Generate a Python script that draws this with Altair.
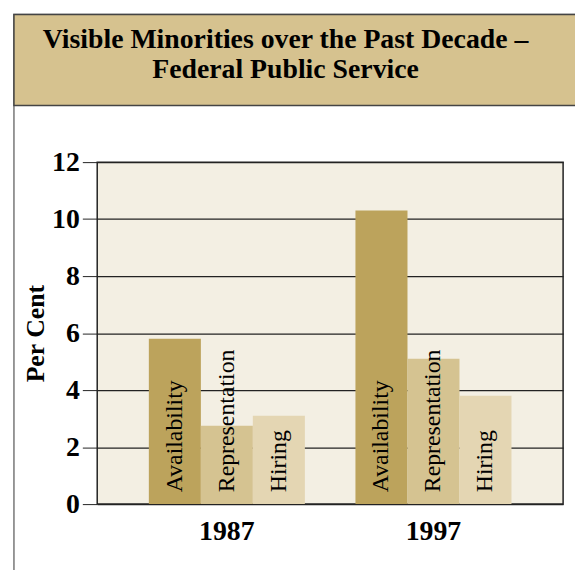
import altair as alt
import pandas as pd

years = ["1987", "1997"]
categories = ["Availability", "Representation", "Hiring"]
values_1987 = [5.8, 2.75, 3.1]
values_1997 = [10.3, 5.1, 3.8]
colors = ["#BCA35C", "#D5C391", "#E4D6B3"]
title_lines = ["Visible Minorities over the Past Decade –", "Federal Public Service"]
y_ticks = [0, 2, 4, 6, 8, 10, 12]

rows = []
for yr, vals in zip(years, [values_1987, values_1997]):
    for c, v in zip(categories, vals):
        rows.append({"year": yr, "category": c, "value": v})
df = pd.DataFrame(rows)

SERIF = "Liberation Serif"

x_enc = alt.X("year:N", sort=years, title=None,
              scale=alt.Scale(paddingInner=0.245, paddingOuter=0.25),
              axis=alt.Axis(labelAngle=0, ticks=False, domain=False,
                            labelFont=SERIF, labelFontSize=28, labelFontWeight="bold",
                            labelColor="black", labelPadding=14))
xoff = alt.XOffset("category:N", sort=categories,
                   scale=alt.Scale(paddingInner=0, paddingOuter=0))
y_enc = alt.Y("value:Q", title="Per Cent",
              scale=alt.Scale(domain=[0, 12], nice=False),
              axis=alt.Axis(values=y_ticks, tickSize=15, tickColor="#222",
                            domain=False, gridColor="#222", gridWidth=1.2,
                            labelFont=SERIF, labelFontSize=28, labelFontWeight="bold",
                            labelColor="black", labelPadding=3,
                            titleFont=SERIF, titleFontSize=26, titleFontWeight="bold",
                            titleColor="black", titlePadding=3))

bars = alt.Chart(df).mark_bar(size=52.5).encode(
    x=x_enc, xOffset=xoff, y=y_enc,
    color=alt.Color("category:N", sort=categories,
                    scale=alt.Scale(domain=categories, range=colors), legend=None),
)

labels = alt.Chart(df).mark_text(
    angle=270, align="left", baseline="middle", dx=12,
    font=SERIF, fontSize=24, color="black"
).encode(
    x=alt.X("year:N", sort=years), xOffset=alt.XOffset("category:N", sort=categories),
    y=alt.datum(0), text="category:N",
)

one = pd.DataFrame({"k": [0]})
outer_box = alt.Chart(one).mark_rect(filled=False, stroke="#777", strokeWidth=1.5).encode(
    x=alt.value(-84), x2=alt.value(600), y=alt.value(-149), y2=alt.value(500)
)
header = alt.Chart(one).mark_rect(fill="#D6C28F", stroke="#444", strokeWidth=1.5).encode(
    x=alt.value(-84), x2=alt.value(600), y=alt.value(-149), y2=alt.value(-57)
)
title_layers = []
for line, ypos in zip(title_lines, [-115, -85]):
    title_layers.append(
        alt.Chart(pd.DataFrame({"line": [line]})).mark_text(
            font=SERIF, fontSize=28, fontWeight="bold", color="black",
            align="center", baseline="alphabetic"
        ).encode(x=alt.value(190), y=alt.value(ypos), text="line:N")
    )

chart = alt.layer(outer_box, header, *title_layers, bars, labels).properties(
    width=470, height=345,
    autosize="none",
    padding={"left": 90, "top": 153, "right": 12, "bottom": 64},
    background="white",
).configure_view(fill="#F3EFE3", stroke="#222", strokeWidth=1.5)

chart.save("out.html", embed_options={"renderer": "svg", "actions": False})
